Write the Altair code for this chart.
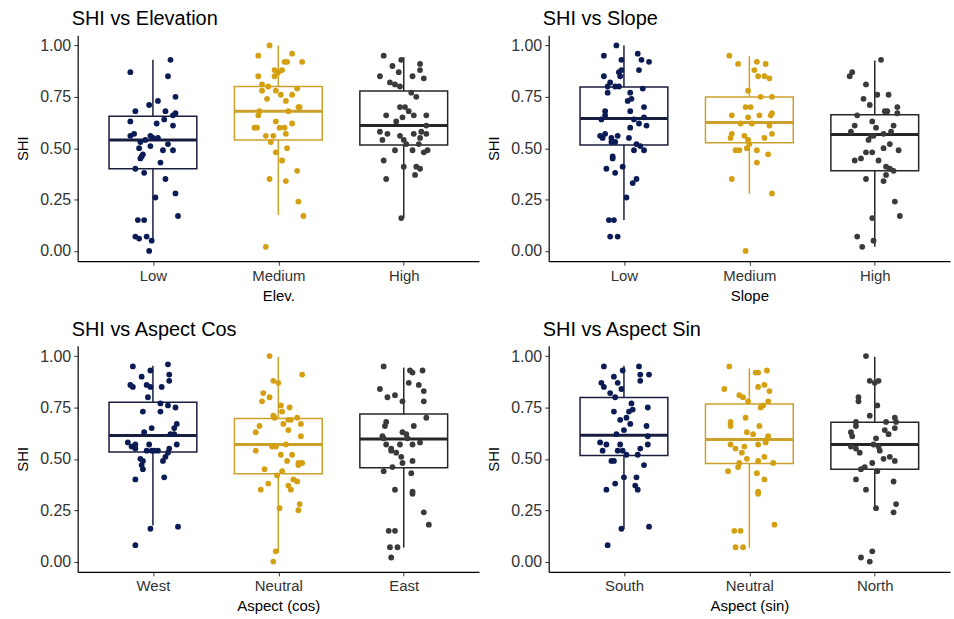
import altair as alt
import pandas as pd

# ---------------- data ----------------
# Each group: SHI values and horizontal jitter (in category units)
EL_Y = [0.93,0.87,0.85,0.75,0.73,0.71,0.68,0.68,0.67,0.66,0.63,0.62,0.64,0.61,0.56,0.57,0.53,0.54,0.56,0.55,0.55,0.52,0.50,0.51,0.49,0.49,0.47,0.46,0.45,0.43,0.40,0.38,0.35,0.26,0.28,0.17,0.15,0.15,0.07,0.06,0.07,0.05,0.00]
EL_J = [0.14,-0.18,0.12,0.18,0.04,-0.03,0.10,-0.14,0.18,0.16,-0.18,0.03,0.09,0.16,-0.18,-0.15,-0.10,-0.06,-0.02,0.00,0.04,0.12,-0.11,-0.02,0.08,0.16,-0.08,-0.09,-0.10,0.06,-0.14,-0.07,0.10,0.02,0.18,0.20,-0.12,-0.07,-0.14,-0.11,-0.05,-0.01,-0.03]
EM_Y = [1.00,0.95,0.96,0.92,0.92,0.92,0.88,0.88,0.87,0.85,0.85,0.81,0.80,0.78,0.79,0.78,0.76,0.76,0.74,0.73,0.70,0.70,0.68,0.68,0.66,0.63,0.62,0.60,0.60,0.60,0.60,0.57,0.56,0.56,0.53,0.48,0.50,0.44,0.39,0.35,0.34,0.24,0.17,0.02]
EM_J = [-0.07,-0.16,0.11,0.05,0.07,0.19,-0.03,0.03,0.00,-0.03,-0.16,-0.13,-0.08,-0.02,0.15,-0.13,0.02,0.11,-0.09,0.06,0.16,0.17,0.08,-0.15,-0.16,-0.02,0.11,-0.19,-0.17,0.01,0.05,0.06,-0.10,-0.04,-0.06,-0.02,0.07,0.03,0.15,-0.07,0.06,0.16,0.20,-0.10]
EH_Y = [0.95,0.93,0.90,0.91,0.88,0.87,0.85,0.85,0.84,0.82,0.81,0.80,0.77,0.75,0.70,0.70,0.68,0.66,0.66,0.66,0.65,0.63,0.61,0.58,0.57,0.56,0.57,0.58,0.57,0.54,0.54,0.55,0.52,0.52,0.49,0.49,0.48,0.49,0.44,0.41,0.41,0.40,0.37,0.35,0.16]
EH_J = [-0.16,-0.02,-0.09,0.13,0.13,-0.04,-0.19,0.07,0.16,-0.11,-0.07,-0.03,0.06,0.10,-0.03,0.01,0.04,0.08,-0.14,0.18,-0.01,-0.06,0.18,-0.19,-0.13,-0.03,0.08,0.14,0.18,-0.17,0.00,0.13,0.02,0.12,-0.07,0.07,0.16,0.19,-0.16,0.00,0.10,0.13,0.09,-0.14,-0.02]

SL_Y = [1.00,0.95,0.93,0.96,0.93,0.92,0.88,0.87,0.88,0.85,0.85,0.82,0.80,0.80,0.80,0.77,0.77,0.79,0.73,0.74,0.70,0.68,0.68,0.66,0.64,0.64,0.65,0.62,0.61,0.60,0.57,0.56,0.55,0.55,0.56,0.53,0.53,0.55,0.52,0.51,0.49,0.49,0.46,0.45,0.41,0.40,0.38,0.35,0.33,0.26,0.15,0.15,0.07,0.07]
SL_J = [-0.06,-0.16,-0.02,0.11,0.14,0.20,0.12,-0.04,-0.02,-0.03,-0.16,-0.11,-0.13,-0.07,-0.04,-0.13,0.05,0.15,0.03,0.06,0.16,0.05,-0.15,-0.15,-0.18,0.08,0.16,0.12,0.18,0.05,-0.15,-0.19,-0.17,-0.10,-0.05,-0.10,-0.07,0.04,0.10,0.13,0.08,0.16,-0.09,-0.09,-0.01,-0.14,-0.07,0.10,0.07,0.02,-0.12,-0.08,-0.11,-0.05]
SM_Y = [0.95,0.91,0.92,0.91,0.88,0.85,0.85,0.84,0.78,0.75,0.75,0.70,0.70,0.66,0.65,0.66,0.67,0.66,0.62,0.62,0.61,0.57,0.57,0.55,0.56,0.55,0.54,0.52,0.50,0.49,0.49,0.49,0.47,0.43,0.35,0.28,0.00]
SM_J = [-0.16,-0.09,0.06,0.13,0.04,0.07,0.12,0.16,-0.01,0.09,0.18,-0.03,0.01,-0.14,-0.01,0.08,0.18,0.17,-0.07,0.02,0.16,0.18,-0.14,-0.15,-0.04,0.12,-0.01,0.00,-0.02,-0.11,-0.08,0.06,0.15,0.06,-0.14,0.18,-0.03]
SH_Y = [0.93,0.87,0.85,0.81,0.74,0.76,0.76,0.71,0.68,0.68,0.70,0.67,0.66,0.63,0.61,0.61,0.58,0.60,0.58,0.57,0.56,0.56,0.54,0.52,0.50,0.49,0.48,0.45,0.48,0.44,0.44,0.41,0.40,0.39,0.37,0.35,0.34,0.24,0.17,0.16,0.07,0.05,0.02]
SH_J = [0.05,-0.18,-0.20,-0.07,-0.09,0.02,0.11,-0.04,0.08,0.10,0.18,0.18,-0.14,-0.02,0.15,-0.16,-0.19,0.01,0.13,0.07,-0.03,-0.01,-0.05,0.12,0.07,0.19,-0.07,-0.11,-0.02,-0.16,0.03,0.09,0.12,0.15,0.09,-0.07,0.07,0.16,0.20,-0.02,-0.14,-0.01,-0.10]

CW_Y = [0.95,0.93,0.96,0.91,0.90,0.88,0.86,0.85,0.86,0.85,0.85,0.80,0.77,0.76,0.75,0.73,0.73,0.67,0.65,0.65,0.63,0.62,0.62,0.58,0.56,0.57,0.55,0.57,0.57,0.54,0.54,0.54,0.54,0.55,0.53,0.51,0.50,0.49,0.49,0.47,0.45,0.40,0.41,0.16,0.17,0.08]
CW_J = [-0.16,-0.02,0.12,0.13,-0.09,0.13,-0.18,-0.16,-0.05,-0.02,0.07,-0.04,0.06,0.12,0.18,-0.08,0.06,0.19,0.17,-0.01,-0.07,0.14,0.17,-0.20,-0.17,-0.14,-0.14,0.19,-0.03,-0.05,-0.01,0.01,0.04,0.13,0.12,0.10,-0.10,-0.08,0.08,-0.09,-0.08,-0.14,0.09,-0.02,0.20,-0.14]
CN_Y = [1.00,0.91,0.88,0.87,0.82,0.80,0.78,0.76,0.75,0.73,0.71,0.70,0.69,0.69,0.67,0.70,0.67,0.66,0.63,0.64,0.61,0.57,0.56,0.56,0.54,0.52,0.52,0.49,0.48,0.48,0.47,0.45,0.44,0.42,0.40,0.39,0.38,0.37,0.35,0.35,0.26,0.28,0.25,0.05,0.00]
CN_J = [-0.07,0.19,-0.04,0.00,-0.12,-0.07,-0.13,0.02,0.09,0.03,-0.04,-0.03,0.08,0.10,0.04,0.15,0.18,-0.15,-0.18,0.08,0.18,0.06,-0.05,-0.02,-0.18,0.02,0.11,0.07,0.16,0.19,0.16,-0.11,0.03,-0.01,0.12,0.15,-0.08,0.08,0.10,-0.14,0.01,0.17,0.16,-0.02,-0.04]
CE_Y = [0.95,0.93,0.92,0.93,0.87,0.86,0.83,0.84,0.80,0.81,0.78,0.78,0.70,0.68,0.66,0.66,0.63,0.62,0.60,0.61,0.60,0.58,0.57,0.57,0.57,0.55,0.54,0.53,0.51,0.48,0.49,0.46,0.44,0.43,0.35,0.34,0.33,0.24,0.18,0.15,0.15,0.07,0.07,0.02]
CE_J = [-0.16,0.05,0.07,0.15,0.04,0.12,0.16,-0.19,-0.13,-0.07,-0.01,0.16,0.18,-0.14,-0.15,0.08,-0.01,0.02,0.03,-0.17,-0.16,0.13,-0.14,-0.03,0.07,-0.10,-0.10,-0.06,-0.02,-0.01,0.07,-0.09,-0.16,0.06,-0.07,0.07,0.07,0.16,0.20,-0.12,-0.07,-0.11,-0.05,-0.10]

SS_Y = [0.95,0.93,0.95,0.91,0.88,0.91,0.90,0.87,0.85,0.87,0.84,0.82,0.80,0.77,0.75,0.73,0.73,0.74,0.69,0.70,0.67,0.66,0.64,0.62,0.61,0.57,0.58,0.57,0.54,0.57,0.54,0.54,0.52,0.55,0.52,0.49,0.49,0.47,0.41,0.41,0.37,0.35,0.38,0.35,0.16,0.17,0.08]
SS_J = [-0.16,-0.01,0.12,0.13,0.13,0.20,-0.08,-0.18,-0.16,-0.05,-0.02,-0.11,-0.07,0.06,0.19,-0.08,0.04,0.07,-0.03,0.02,0.05,0.18,0.00,-0.06,0.19,0.19,-0.19,-0.14,-0.17,-0.03,-0.05,-0.01,0.02,0.13,0.11,-0.10,-0.08,0.16,0.00,0.10,0.09,0.11,-0.07,-0.14,-0.02,0.20,-0.13]
SN_Y = [0.95,0.92,0.92,0.93,0.84,0.85,0.86,0.83,0.81,0.80,0.78,0.78,0.75,0.76,0.70,0.68,0.66,0.66,0.63,0.62,0.61,0.58,0.59,0.57,0.57,0.55,0.56,0.53,0.51,0.50,0.49,0.48,0.48,0.46,0.44,0.43,0.40,0.34,0.33,0.18,0.15,0.15,0.07,0.07]
SN_J = [-0.16,0.05,0.07,0.14,-0.20,0.07,0.12,0.16,-0.08,-0.05,-0.01,0.15,0.09,0.11,-0.03,-0.15,-0.15,0.08,-0.02,0.03,0.15,0.13,0.13,-0.15,0.07,-0.11,-0.04,-0.06,0.12,-0.02,0.07,0.19,-0.08,-0.09,-0.17,0.06,0.12,0.07,0.07,0.20,-0.12,-0.07,-0.11,-0.05]
SNO_Y = [1.00,0.88,0.88,0.87,0.80,0.78,0.76,0.71,0.68,0.70,0.68,0.68,0.66,0.65,0.64,0.63,0.61,0.62,0.60,0.56,0.55,0.53,0.57,0.56,0.54,0.51,0.50,0.49,0.48,0.45,0.46,0.44,0.40,0.39,0.35,0.26,0.28,0.24,0.02,0.05,0.00]
SNO_J = [-0.07,-0.04,0.03,0.00,-0.13,-0.13,0.02,-0.04,0.09,0.16,0.17,-0.15,-0.15,0.16,0.08,-0.19,-0.18,0.11,0.01,-0.19,-0.15,-0.12,-0.01,0.03,0.04,0.12,0.07,0.16,-0.02,-0.11,-0.08,0.02,-0.15,0.15,-0.07,0.01,0.17,0.15,-0.11,-0.02,-0.04]

# Box statistics per group: lower whisker, Q1, median, Q3, upper whisker
ELEV_STATS = [[0.04,0.40,0.54,0.655,0.93],[0.175,0.54,0.68,0.80,1.00],[0.16,0.515,0.61,0.778,0.943]]
SLOPE_STATS = [[0.15,0.515,0.644,0.798,1.00],[0.277,0.526,0.625,0.749,0.947],[0.02,0.39,0.566,0.663,0.927]]
COS_STATS = [[0.176,0.533,0.614,0.776,0.953],[0.042,0.428,0.57,0.696,0.997],[0.068,0.457,0.597,0.718,0.944]]
SIN_STATS = [[0.159,0.517,0.615,0.799,0.953],[0.068,0.478,0.594,0.767,0.94],[0.259,0.449,0.57,0.678,0.997]]

PANELS = [
    ("SHI vs Elevation", "Elev.", ["Low", "Medium", "High"], [(EL_Y, EL_J), (EM_Y, EM_J), (EH_Y, EH_J)], ELEV_STATS),
    ("SHI vs Slope", "Slope", ["Low", "Medium", "High"], [(SL_Y, SL_J), (SM_Y, SM_J), (SH_Y, SH_J)], SLOPE_STATS),
    ("SHI vs Aspect Cos", "Aspect (cos)", ["West", "Neutral", "East"], [(CW_Y, CW_J), (CN_Y, CN_J), (CE_Y, CE_J)], COS_STATS),
    ("SHI vs Aspect Sin", "Aspect (sin)", ["South", "Neutral", "North"], [(SS_Y, SS_J), (SN_Y, SN_J), (SNO_Y, SNO_J)], SIN_STATS),
]

POINT_COLORS = ["#0b1c55", "#d4a012", "#3a3a3a"]
LINE_COLORS = ["#1a1e3e", "#cba12c", "#262626"]

FONT = "Liberation Sans"
W, H = 403, 227
HALF = 0.35


def panel(title, xtitle, labels, groups, stats):
    rows = []
    for i, (ys, js) in enumerate(groups):
        for y, j in zip(ys, js):
            rows.append({"c": str(i), "i": i + 1, "y": y, "j": j})
    pts = pd.DataFrame(rows)
    box = pd.DataFrame({
        "c": ["0", "1", "2"], "i": [1, 2, 3],
        "lo": [s[0] for s in stats], "q1": [s[1] for s in stats],
        "med": [s[2] for s in stats], "q3": [s[3] for s in stats],
        "hi": [s[4] for s in stats],
    })
    lab_expr = (f"datum.value == 1 ? '{labels[0]}' : datum.value == 2 ? '{labels[1]}' : "
                f"datum.value == 3 ? '{labels[2]}' : ''")
    xscale = alt.Scale(domain=[0.4, 3.6], nice=False, zero=False)
    yscale = alt.Scale(domain=[-0.05, 1.05], nice=False, zero=False)
    xaxis = alt.Axis(values=[1, 2, 3], labelExpr=lab_expr, title=xtitle, grid=False)
    yaxis = alt.Axis(values=[0, 0.25, 0.5, 0.75, 1.0], format=".2f", title="SHI", grid=False,
                     labelFontSize=16, titlePadding=9)
    line_stroke = alt.Stroke("c:N", scale=alt.Scale(domain=["0", "1", "2"], range=LINE_COLORS), legend=None)

    base_box = alt.Chart(box).transform_calculate(
        xl=f"datum.i - {HALF}", xr=f"datum.i + {HALF}"
    )
    whisk_hi = base_box.mark_rule(strokeWidth=1.5).encode(
        x=alt.X("i:Q", scale=xscale, axis=xaxis),
        y=alt.Y("q3:Q", scale=yscale, axis=yaxis),
        y2="hi:Q",
        stroke=line_stroke,
    )
    whisk_lo = base_box.mark_rule(strokeWidth=1.5).encode(
        x=alt.X("i:Q", scale=xscale), y=alt.Y("lo:Q", scale=yscale), y2="q1:Q",
        stroke=line_stroke,
    )
    rect = base_box.mark_rect(fill="white", strokeWidth=1.5).encode(
        x=alt.X("xl:Q", scale=xscale), x2="xr:Q",
        y=alt.Y("q1:Q", scale=yscale), y2="q3:Q",
        stroke=line_stroke,
    )
    med = base_box.mark_rule(strokeWidth=3).encode(
        x=alt.X("xl:Q", scale=xscale), x2="xr:Q",
        y=alt.Y("med:Q", scale=yscale),
        stroke=line_stroke,
    )
    points = alt.Chart(pts).transform_calculate(
        xp="datum.i + datum.j"
    ).mark_circle(size=34, opacity=1).encode(
        x=alt.X("xp:Q", scale=xscale),
        y=alt.Y("y:Q", scale=yscale),
        color=alt.Color("c:N", scale=alt.Scale(domain=["0", "1", "2"], range=POINT_COLORS), legend=None),
    )
    return alt.layer(whisk_hi, whisk_lo, rect, med, points).properties(
        width=W, height=H,
        title=alt.TitleParams(title, anchor="start", frame="group", font=FONT, fontSize=20,
                              fontWeight="normal", color="black", offset=6, dx=-6),
    )


charts = [panel(*p) for p in PANELS]
chart = alt.vconcat(
    alt.hconcat(charts[0], charts[1], spacing=7),
    alt.hconcat(charts[2], charts[3], spacing=7),
    spacing=17,
).properties(
    padding={"left": 15, "top": 8, "right": 4, "bottom": 4},
    background="white",
).configure_view(stroke=None).configure_axis(
    labelFont=FONT, titleFont=FONT, labelFontSize=15, titleFontSize=15,
    labelColor="#333333", titleColor="black", titleFontWeight="normal",
    domainColor="black", domainWidth=1.2, tickColor="#333333", tickSize=4,
    labelPadding=3, titlePadding=5,
)

chart.save("out.html", embed_options={"renderer": "svg", "actions": False})
